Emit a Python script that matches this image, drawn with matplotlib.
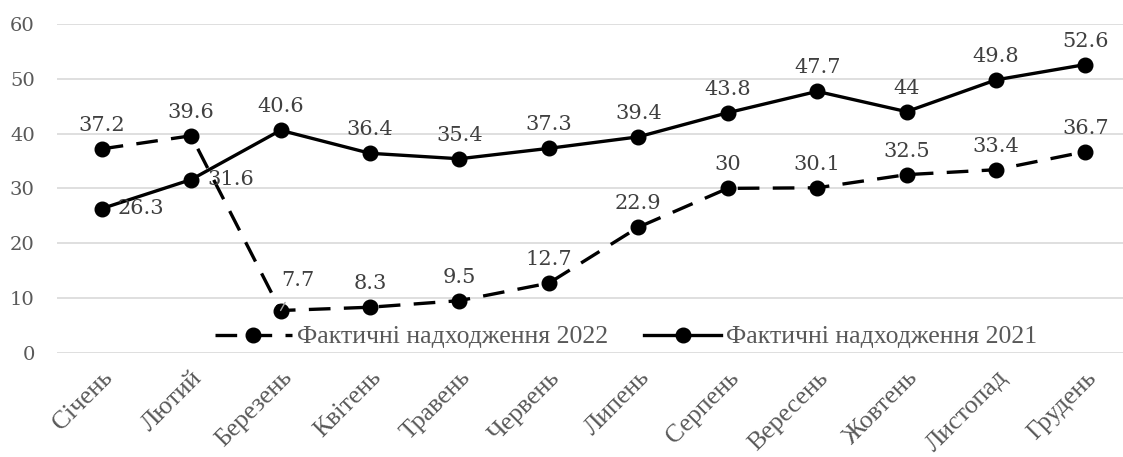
import matplotlib
matplotlib.use("Agg")
import matplotlib.pyplot as plt

months = ["Січень", "Лютий", "Березень", "Квітень", "Травень", "Червень",
          "Липень", "Серпень", "Вересень", "Жовтень", "Листопад", "Грудень"]
values_2022 = [37.2, 39.6, 7.7, 8.3, 9.5, 12.7, 22.9, 30, 30.1, 32.5, 33.4, 36.7]
values_2021 = [26.3, 31.6, 40.6, 36.4, 35.4, 37.3, 39.4, 43.8, 47.7, 44, 49.8, 52.6]
labels_2022 = ["37.2", "39.6", "7.7", "8.3", "9.5", "12.7", "22.9", "30", "30.1", "32.5", "33.4", "36.7"]
labels_2021 = ["26.3", "31.6", "40.6", "36.4", "35.4", "37.3", "39.4", "43.8", "47.7", "44", "49.8", "52.6"]
name_2022 = "Фактичні надходження 2022"
name_2021 = "Фактичні надходження 2021"
yticks = [0, 10, 20, 30, 40, 50, 60]

W, H = 1123, 457
fig = plt.figure(figsize=(W / 100, H / 100), dpi=100)
ax = fig.add_axes([57 / W, 1 - 352.7 / H, (W - 57) / W, (352.7 - 24) / H])

x = list(range(len(months)))
num_font = ["DejaVu Serif"]
txt_font = ["Liberation Serif", "DejaVu Serif"]
lab_color = "#404040"

l22, = ax.plot(x, values_2022, color="black", lw=2.4, ls=(0, (6.5, 4)),
               marker="o", ms=10.5, zorder=3, label=name_2022)
l21, = ax.plot(x, values_2021, color="black", lw=2.4, ls="-",
               marker="o", ms=10.5, zorder=3, label=name_2021)

for i, (v, t) in enumerate(zip(values_2022, labels_2022)):
    if i == 2:
        ax.annotate(t, (i, v), xytext=(17, 30), textcoords="offset pixels",
                    ha="center", va="center", fontsize=15, family=num_font,
                    color=lab_color,
                    arrowprops=dict(arrowstyle="-", color="#a6a6a6", lw=1,
                                    shrinkA=8, shrinkB=0))
    else:
        ax.annotate(t, (i, v), xytext=(0, 14), textcoords="offset pixels",
                    ha="center", va="bottom", fontsize=15, family=num_font,
                    color=lab_color)

for i, (v, t) in enumerate(zip(values_2021, labels_2021)):
    if i in (0, 1):
        ax.annotate(t, (i, v), xytext=(16, 0), textcoords="offset pixels",
                    ha="left", va="center", fontsize=15, family=num_font,
                    color=lab_color)
    else:
        ax.annotate(t, (i, v), xytext=(0, 14), textcoords="offset pixels",
                    ha="center", va="bottom", fontsize=15, family=num_font,
                    color=lab_color)

ax.set_ylim(0, 60)
ax.set_xlim(-0.5, 11.42)
ax.set_yticks(yticks)
ax.set_yticklabels([str(t) for t in yticks], fontsize=14, family=num_font, color="#595959")
ax.yaxis.grid(True, color="#d9d9d9", lw=1.2)
ax.set_axisbelow(True)
for s in ax.spines.values():
    s.set_visible(False)
ax.tick_params(axis="both", length=0)
ax.tick_params(axis="y", pad=16)

ax.set_xticks(x)
ax.set_xticklabels(months, rotation=45, ha="right", rotation_mode="anchor",
                   fontsize=18.5, family=txt_font, color="#595959")
ax.tick_params(axis="x", pad=10)

leg = fig.legend(handles=[l22, l21], loc="center",
                 bbox_to_anchor=(626 / W, 1 - 337 / H), ncol=2, frameon=False,
                 prop={"family": txt_font, "size": 18.5}, labelcolor="#595959",
                 handlelength=3.0, handletextpad=0.2, columnspacing=1.4)

fig.savefig("out.png", dpi=100)
